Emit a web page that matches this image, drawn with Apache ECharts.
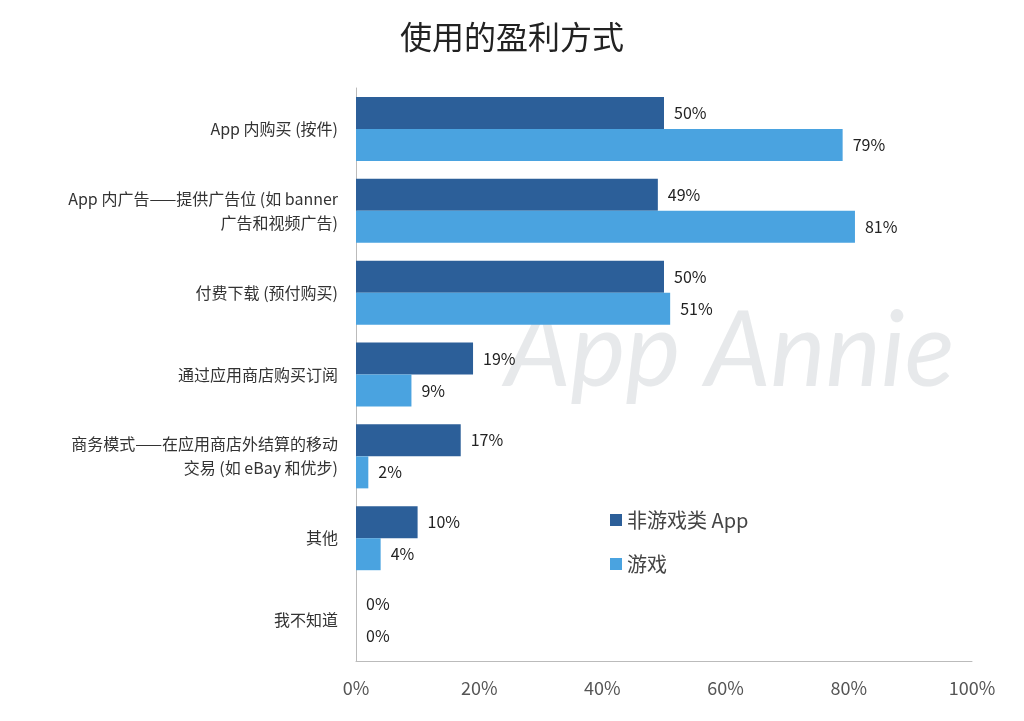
<!DOCTYPE html>
<html><head><meta charset="utf-8">
<script src="https://cdn.jsdelivr.net/npm/echarts@6/dist/echarts.min.js"></script>
<style>html,body{margin:0;padding:0;background:#fff}#c{width:1024px;height:721px}</style>
</head><body><div id="c"></div>
<script>
const categories = ['App 内购买 (按件)','App 内广告——提供广告位 (如 banner\n广告和视频广告)','付费下载 (预付购买)','通过应用商店购买订阅','商务模式——在应用商店外结算的移动\n交易 (如 eBay 和优步)','其他','我不知道'];
const nonGame = [50,49,50,19,17,10,0];
const game = [79,81,51,9,2,4,0];
const xTicks = [0,20,40,60,80,100];
const F = '"Noto Sans CJK SC","Noto Sans",sans-serif';
const chart = echarts.init(document.getElementById('c'));
chart.setOption({
  animation:false,
  title:{text:'使用的盈利方式',left:'center',top:16,textStyle:{fontFamily:F,fontSize:32,fontWeight:'normal',color:'#222'}},
  graphic:[{type:'text',left:505,top:300,z:0,style:{text:'App Annie',fontFamily:'Lato, sans-serif',fontStyle:'italic',fontSize:104,fill:'rgba(195,200,205,0.4)'}}],
  legend:{orient:'vertical',left:605,top:505,itemWidth:12,itemHeight:12,itemGap:24,icon:'rect',textStyle:{fontFamily:F,fontSize:20,color:'#444'}},
  grid:{left:356,right:52,top:88,bottom:60},
  xAxis:{type:'value',min:0,max:100,interval:20,splitLine:{show:false},axisLine:{show:true,lineStyle:{color:'#bbb'}},axisTick:{show:false},
    axisLabel:{formatter:v=>v+'%',fontFamily:F,fontSize:18,color:'#555',margin:18}},
  yAxis:{type:'category',data:categories,inverse:true,axisLine:{lineStyle:{color:'#bbb'}},axisTick:{show:false},
    axisLabel:{fontFamily:F,fontSize:16,color:'#333',margin:18,lineHeight:24,align:'right'}},
  series:[
    {name:'非游戏类 App',type:'bar',data:nonGame,barWidth:32,barGap:'0%',itemStyle:{color:'#2c5f99'},
     label:{show:true,position:'right',formatter:'{c}%',fontFamily:F,fontSize:16,color:'#222',distance:10}},
    {name:'游戏',type:'bar',data:game,barWidth:32,itemStyle:{color:'#4aa3e0'},
     label:{show:true,position:'right',formatter:'{c}%',fontFamily:F,fontSize:16,color:'#222',distance:10}}
  ]
});
</script></body></html>
